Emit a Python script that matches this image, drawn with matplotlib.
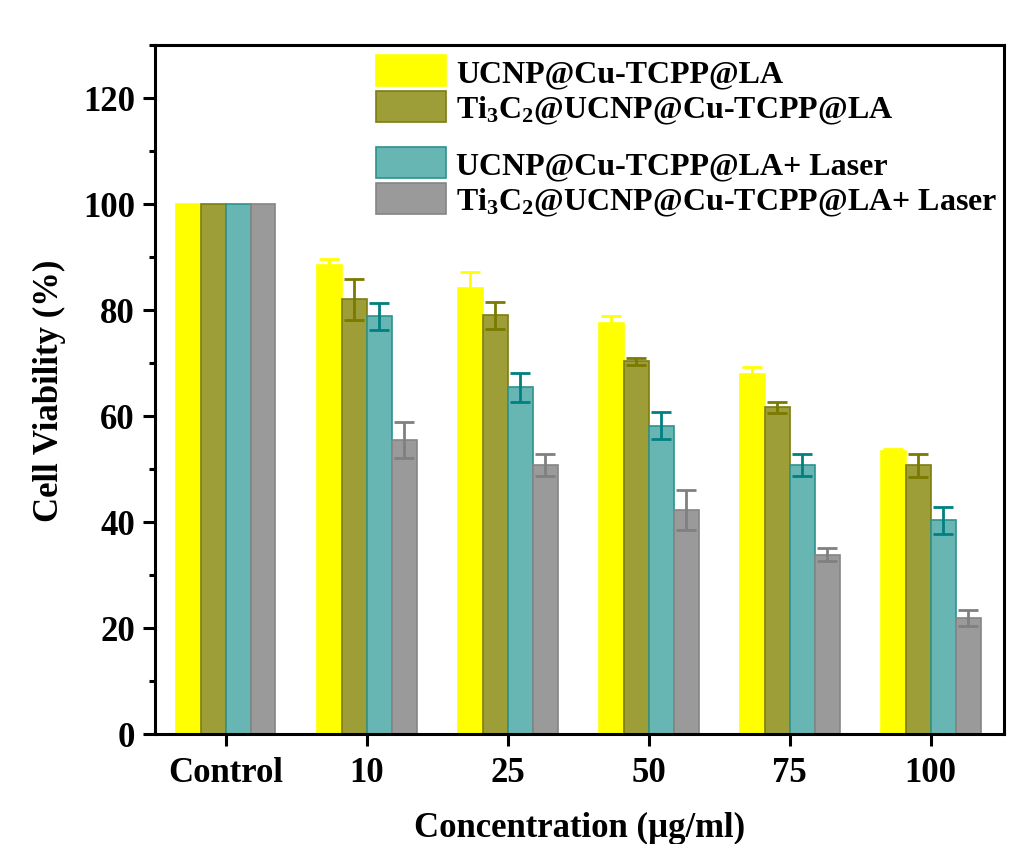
import numpy as np
import matplotlib
matplotlib.use('Agg')
import matplotlib.pyplot as plt
from matplotlib.ticker import MultipleLocator

plt.rcParams['font.family'] = ['Liberation Serif', 'DejaVu Serif']
plt.rcParams['font.weight'] = 'bold'
plt.rcParams['mathtext.fontset'] = 'custom'
plt.rcParams['mathtext.rm'] = 'Liberation Serif:bold'
plt.rcParams['mathtext.it'] = 'Liberation Serif:bold'
plt.rcParams['mathtext.bf'] = 'Liberation Serif:bold'

# concentration groups
groups = ['Control', '10', '25', '50', '75', '100']

# cell viability (%) and standard deviation for each formulation
ucnp = [100, 88.4, 84.1, 77.5, 67.9, 53.4]
ucnp_err = [0, 1.3, 3.0, 1.3, 1.3, 0.3]
ti_ucnp = [100, 82.0, 79.0, 70.3, 61.6, 50.7]
ti_ucnp_err = [0, 3.9, 2.5, 0.6, 1.1, 2.2]
ucnp_laser = [100, 78.8, 65.4, 58.2, 50.7, 40.3]
ucnp_laser_err = [0, 2.5, 2.7, 2.6, 2.1, 2.5]
ti_ucnp_laser = [100, 55.4, 50.7, 42.2, 33.8, 21.8]
ti_ucnp_laser_err = [0, 3.4, 2.1, 3.8, 1.2, 1.5]

labels = ['UCNP@Cu-TCPP@LA',
          r'Ti$_3$C$_2$@UCNP@Cu-TCPP@LA',
          'UCNP@Cu-TCPP@LA+ Laser',
          r'Ti$_3$C$_2$@UCNP@Cu-TCPP@LA+ Laser']

series = [ucnp, ti_ucnp, ucnp_laser, ti_ucnp_laser]
errors = [ucnp_err, ti_ucnp_err, ucnp_laser_err, ti_ucnp_laser_err]
faces = ['#ffff00', '#9e9e38', '#68b6b3', '#9a9a9a']
edges = ['#ffff00', '#7d7d10', '#2e928d', '#858585']
ecolors = ['#ffff00', '#7a7a00', '#008080', '#808080']

fig = plt.figure(figsize=(10.24, 8.45), dpi=100)
ax = fig.add_axes([0.1514, 0.1302, 0.8291, 0.8154])

x = np.arange(len(groups))
w = 0.177
handles = []
for i in range(4):
    pos = x + (i - 1.5) * w
    bars = ax.bar(pos, series[i], w, color=faces[i], edgecolor=edges[i],
                  linewidth=1.2, label=labels[i], zorder=2)
    handles.append(bars)
    ax.errorbar(pos[1:], series[i][1:], yerr=errors[i][1:], fmt='none',
                ecolor=ecolors[i], elinewidth=2, capsize=7.5, capthick=2,
                zorder=3)

ax.set_xlim(-0.5, 5.52)
ax.set_ylim(0, 130)
ax.set_xticks(x)
ax.set_xticklabels(groups)
ax.yaxis.set_major_locator(MultipleLocator(20))
ax.yaxis.set_minor_locator(MultipleLocator(10))

for s in ax.spines.values():
    s.set_linewidth(2.2)
ax.tick_params(axis='both', which='major', direction='out', length=8.5,
               width=2.2, labelsize=25)
ax.tick_params(axis='y', which='major', pad=6)
ax.tick_params(axis='x', which='major', pad=7)
ax.tick_params(axis='y', which='minor', direction='out', length=4.5, width=2.2)
ax.tick_params(axis='x', which='minor', bottom=False)
ax.tick_params(top=False, right=False)

ax.set_xlabel('Concentration (µg/ml)', fontsize=25, fontweight='bold', labelpad=16)
ax.set_ylabel('Cell Viability (%)', fontsize=25, fontweight='bold', labelpad=12)

leg_kw = dict(loc='upper left', frameon=False, fontsize=23, handlelength=2.2,
              handleheight=1.12, handletextpad=0.3, labelspacing=0.08,
              borderpad=0, borderaxespad=0)
leg1 = fig.legend(handles[:2], labels[:2], bbox_to_anchor=(376 / 1024, 1 - 56 / 845),
                  **leg_kw)
leg2 = fig.legend(handles[2:], labels[2:], bbox_to_anchor=(376 / 1024, 1 - 148 / 845),
                  **leg_kw)

fig.savefig('out.png', dpi=100)
